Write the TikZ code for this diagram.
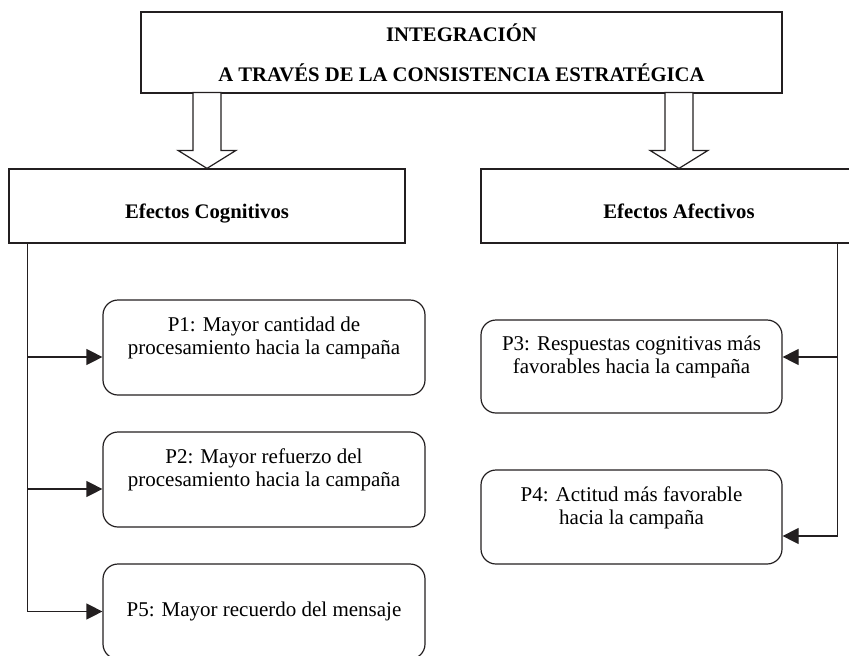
\documentclass[tikz,border=0pt]{standalone}
\usepackage{fontspec}
\setmainfont{Liberation Serif}
\usetikzlibrary{arrows.meta,calc}
\definecolor{ink}{HTML}{231F20}

\tikzset{
  headbox/.style={draw=ink,line width=1.2pt,inner sep=0pt,align=center,
    font=\fontsize{20.7}{40}\selectfont\bfseries},
  effbox/.style={draw=ink,line width=1.2pt,inner sep=0pt,
    minimum width=396pt,minimum height=74pt,text height=24pt,text depth=0pt,
    font=\fontsize{20.7}{24}\selectfont\bfseries},
  propbox/.style={draw=ink,line width=1.2pt,rounded corners=15pt,inner sep=0pt,
    align=center,minimum height=95pt,font=\fontsize{21}{23}\selectfont},
  blockarrow/.style={draw=ink,line width=1.2pt,fill=white,line join=miter},
  feed/.style={draw=ink,line width=1.2pt,-{Triangle[length=16pt,width=16pt]}}
}

\begin{document}
\begin{tikzpicture}[x=1pt,y=-1pt]
    \clip (0,0) rectangle (849,656);
    % top box
    \node[headbox,minimum width=641pt,minimum height=81pt] (integ) at (461.5,52.5)
        {INTEGRACIÓN\\A TRAVÉS DE LA CONSISTENCIA ESTRATÉGICA};
    % effects
    \node[effbox] (cog) at (207,206) {Efectos Cognitivos};
    \node[effbox] (afe) at (679,206) {Efectos Afectivos};
    \draw[blockarrow] (cog.north) -- ++(-29,-18) -- ++(15,0) -- ++(0,-58)
        -- ++(28,0) -- ++(0,58) -- ++(15,0) -- cycle;
    \draw[blockarrow] (afe.north) -- ++(-29,-18) -- ++(15,0) -- ++(0,-58)
        -- ++(28,0) -- ++(0,58) -- ++(15,0) -- cycle;
    % propositions
    \node[propbox,minimum width=322pt] (p1) at (264,347.5)
        {P1: Mayor cantidad de\\procesamiento hacia la campaña\\\mbox{}};
    \node[propbox,minimum width=322pt] (p2) at (264,479.5)
        {P2: Mayor refuerzo del\\procesamiento hacia la campaña\\\mbox{}};
    \node[propbox,minimum width=322pt] (p5) at (264,611.5)
        {P5: Mayor recuerdo del mensaje};
    \node[propbox,minimum width=301pt,minimum height=93pt] (p3) at (631.5,366.5)
        {P3: Respuestas cognitivas más\\favorables hacia la campaña\\\mbox{}};
    \node[propbox,minimum width=301pt,minimum height=94pt] (p4) at (631.5,517)
        {P4: Actitud más favorable\\hacia la campaña\\\mbox{}};
    % connectors
    \coordinate (lbus) at ($(cog.south west)+(19,0)$);
    \coordinate (rbus) at ($(afe.south west)+(357,0)$);
    \coordinate (p1in) at ($(p1.west)+(0,9.5)$);
    \coordinate (p2in) at ($(p2.west)+(0,9.5)$);
    \coordinate (p3in) at ($(p3.east)+(0,-9.5)$);
    \coordinate (p4in) at ($(p4.east)+(0,19)$);
    \draw[feed] (lbus) |- (p5.west);
    \draw[feed] (lbus |- p1in) -- (p1in);
    \draw[feed] (lbus |- p2in) -- (p2in);
    \draw[feed] (rbus) |- (p4in);
    \draw[feed] (rbus |- p3in) -- (p3in);
\end{tikzpicture}
\end{document}
